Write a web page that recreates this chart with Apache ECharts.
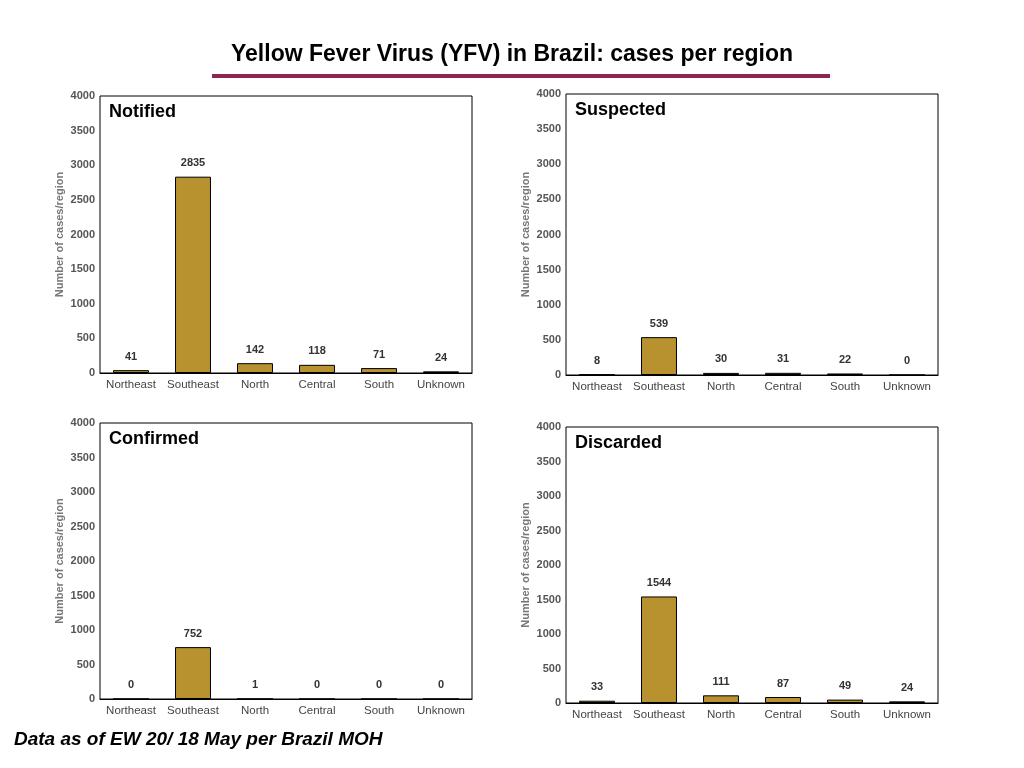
<!DOCTYPE html>
<html><head><meta charset="utf-8">
<script src="https://cdn.jsdelivr.net/npm/echarts@6/dist/echarts.min.js"></script>
<style>html,body{margin:0;padding:0;background:#fff}#c{width:1024px;height:768px}</style>
</head><body><div id="c"></div>
<script>
const categories = ['Northeast','Southeast','North','Central','South','Unknown'];
const notified = [41,2835,142,118,71,24];
const suspected = [8,539,30,31,22,0];
const confirmed = [0,752,1,0,0,0];
const discarded = [33,1544,111,87,49,24];
const panelNames = ['Notified','Suspected','Confirmed','Discarded'];
const panelData = [notified,suspected,confirmed,discarded];
const grids = [
  {left:100,top:96,width:372,height:277},
  {left:566,top:94,width:372,height:281},
  {left:100,top:423,width:372,height:276},
  {left:566,top:427,width:372,height:276}
];
const chart = echarts.init(document.getElementById('c'));
const font = 'Helvetica, Arial, "Liberation Sans", sans-serif';
chart.setOption({
  animation:false,
  textStyle:{fontFamily:font},
  title:{text:'Yellow Fever Virus (YFV) in Brazil: cases per region',left:'center',top:38,
    textStyle:{fontSize:23,fontWeight:'bold',color:'#000',fontFamily:font}},
  graphic:[
    {type:'rect',shape:{x:212,y:74,width:618,height:4},style:{fill:'#8E2453'}},
    {type:'text',left:14,top:730,style:{text:'Data as of EW 20/ 18 May per Brazil MOH',font:'italic bold 19px '+font,fill:'#000'}}
  ].concat(grids.map((g,i)=>({type:'text',left:g.left+9,top:g.top+7,
    style:{text:panelNames[i],font:'bold 18px '+font,fill:'#000'}}))),
  grid:grids.map(g=>Object.assign({show:true,borderColor:'#000',borderWidth:1,backgroundColor:'#fff'},g)),
  xAxis:grids.map((g,i)=>({type:'category',gridIndex:i,data:categories,
    axisLine:{lineStyle:{color:'#000'}},axisTick:{show:false},
    axisLabel:{color:'#444',fontSize:11.5,interval:0,margin:6}})),
  yAxis:grids.map((g,i)=>({type:'value',gridIndex:i,min:0,max:4000,interval:500,
    name:'Number of cases/region',nameLocation:'middle',nameGap:35,
    nameTextStyle:{color:'#777',fontSize:11,fontWeight:'bold'},
    splitLine:{show:false},axisLine:{show:false},axisTick:{show:false},
    axisLabel:{color:'#555',fontSize:11,fontWeight:'bold',margin:5,formatter:v=>String(v)}})),
  series:panelData.map((d,i)=>({type:'bar',xAxisIndex:i,yAxisIndex:i,data:d,barWidth:'58%',
    itemStyle:{color:'#B8922F',borderColor:'#000',borderWidth:1},
    label:{show:true,position:'top',distance:8,color:'#333',fontWeight:'bold',fontSize:11}}))
});
</script></body></html>
